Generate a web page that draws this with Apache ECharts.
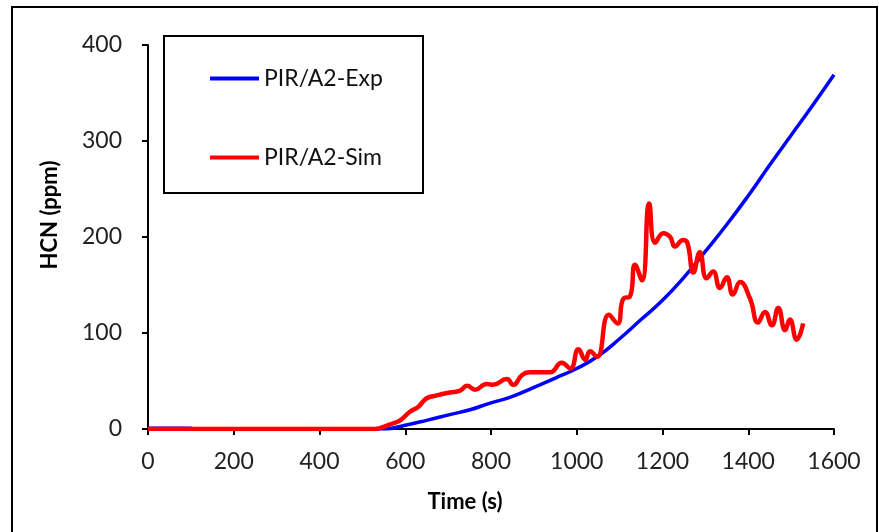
<!DOCTYPE html>
<html>
<head>
<meta charset="utf-8">
<script src="https://cdn.jsdelivr.net/npm/echarts@6/dist/echarts.min.js"></script>
<style>
html,body{margin:0;padding:0;background:#fff;}
#c{width:879px;height:532px;}
</style>
</head>
<body>
<div id="c"></div>
<script>
const seriesNames = ['PIR/A2-Exp', 'PIR/A2-Sim'];
const xAxisTitle = 'Time (s)';
const yAxisTitle = 'HCN (ppm)';

const expTime = [0, 100, 106, 548, 600, 650, 704, 751, 798, 844, 914, 950, 1000, 1050, 1100, 1150, 1200, 1250, 1300, 1350, 1400, 1450, 1500, 1550, 1600];
const expHCN  = [0.8, 0.8, 0, 0, 4, 9, 15, 20, 27, 33, 46, 53, 63, 76, 94, 114, 134, 158, 185, 213, 243, 275, 306, 337, 369];

const simTime = [0, 530, 541, 572, 588, 611, 630, 650, 674, 704, 728, 744, 763, 790, 805, 837, 852, 872, 891, 914, 938, 965, 985, 1004, 1020, 1031, 1047, 1075, 1095, 1109, 1124, 1136, 1152, 1169, 1183, 1202, 1218, 1229, 1248, 1258, 1272, 1287, 1303, 1318, 1334, 1350, 1364, 1381, 1404, 1423, 1439, 1455, 1470, 1486, 1497, 1513, 1528];
const simHCN  = [0, 0, 1, 6, 9, 18, 23, 32, 35, 38, 40, 45, 41, 47, 46, 52, 46, 56, 59, 59, 59, 69, 63, 83, 72, 81, 75, 119, 110, 136, 138, 171, 155, 235, 194, 204, 200, 190, 197, 194, 163, 184, 157, 164, 147, 158, 140, 153, 136, 111, 122, 108, 126, 103, 114, 93, 110];

const xMin = 0, xMax = 1600, xStep = 200;
const yMin = 0, yMax = 400, yStep = 100;

const zip = (a, b) => a.map((v, i) => [v, b[i]]);
const font = 'Lato, "Open Sans", sans-serif';

const chart = echarts.init(document.getElementById('c'), null, {renderer: 'canvas'});
chart.setOption({
  animation: false,
  backgroundColor: '#fff',
  grid: {left: 148, right: 45, top: 45, bottom: 103, containLabel: false},
  xAxis: {
    type: 'value', min: xMin, max: xMax, interval: xStep,
    name: xAxisTitle, nameLocation: 'middle', nameGap: 62,
    nameTextStyle: {fontFamily: font, fontSize: 22, fontWeight: 'bold', color: '#000', padding: [0, 52, 0, 0]},
    axisLine: {show: true, lineStyle: {color: '#000', width: 2}},
    axisTick: {show: true, inside: false, length: 6, lineStyle: {color: '#000', width: 2}},
    axisLabel: {fontFamily: font, fontSize: 23, color: '#222', margin: 21, formatter: v => String(v)},
    splitLine: {show: false}
  },
  yAxis: {
    type: 'value', min: yMin, max: yMax, interval: yStep,
    name: yAxisTitle, nameLocation: 'middle', nameGap: 87, nameRotate: 90,
    nameTextStyle: {fontFamily: font, fontSize: 22, fontWeight: 'bold', color: '#000', padding: [0, 0, 0, 44]},
    axisLine: {show: true, lineStyle: {color: '#000', width: 2}},
    axisTick: {show: true, inside: false, length: 6, lineStyle: {color: '#000', width: 2}},
    axisLabel: {fontFamily: font, fontSize: 23, color: '#222', margin: 26, formatter: v => String(v)},
    splitLine: {show: false}
  },
  legend: {
    orient: 'vertical', left: 205, top: 62, itemGap: 56,
    itemWidth: 49, itemHeight: 4, z: 10,
    icon: 'rect',
    data: seriesNames,
    textStyle: {fontFamily: font, fontSize: 23, color: '#111'}
  },
  graphic: [
    {type: 'rect', shape: {x: 12, y: 7, width: 865, height: 540}, style: {fill: 'none', stroke: '#000', lineWidth: 2}, silent: true, z: 0},
    {type: 'rect', shape: {x: 164, y: 36, width: 259, height: 157}, style: {fill: 'none', stroke: '#000', lineWidth: 2}, silent: true, z: 1}
  ],
  series: [
    {
      name: seriesNames[0], type: 'line', data: zip(expTime, expHCN),
      showSymbol: false, symbol: 'none', smooth: 0.5,
      lineStyle: {color: '#0000ff', width: 3.5}, itemStyle: {color: '#0000ff'}, z: 3
    },
    {
      name: seriesNames[1], type: 'line', data: zip(simTime, simHCN),
      showSymbol: false, symbol: 'none', smooth: 0.5,
      lineStyle: {color: '#ff0000', width: 4.5}, itemStyle: {color: '#ff0000'}, z: 4
    }
  ]
});
</script>
</body>
</html>
